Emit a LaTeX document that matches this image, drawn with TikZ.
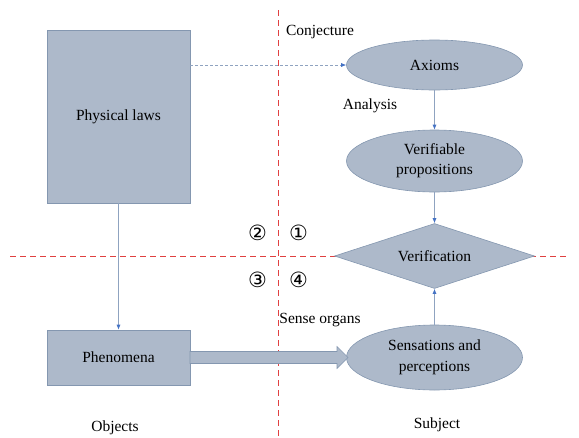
\documentclass[tikz,border=0pt]{standalone}
\usepackage{fontspec}
\setmainfont{Liberation Serif}
\newfontfamily\symfont{DejaVu Sans}
\usetikzlibrary{shapes.geometric,arrows.meta}
\definecolor{boxfill}{HTML}{ADB9CA}
\definecolor{boxline}{HTML}{8497B0}
\definecolor{conn}{HTML}{8FA3C0}
\definecolor{tipc}{HTML}{4472C4}
\definecolor{sep}{HTML}{E04040}
\tikzset{
  x=1pt,y=-1pt,
  every node/.style={font=\fontsize{15.5}{18}\selectfont},
  rectbox/.style={draw=boxline,fill=boxfill,line width=0.6pt,inner sep=0pt},
  ellbox/.style={ellipse,draw=boxline,fill=boxfill,line width=0.6pt,minimum width=176pt,minimum height=52pt,inner sep=0pt,align=center},
  diabox/.style={diamond,draw=boxline,fill=boxfill,line width=0.6pt,minimum width=200pt,minimum height=65pt,inner sep=0pt,aspect=3},
  conline/.style={draw=conn,line width=0.6pt,-{Latex[length=5pt,width=4pt,color=tipc]}},
  sepline/.style={draw=sep,line width=0.6pt,dash pattern=on 6pt off 4pt},
  lbl/.style={inner sep=0pt},
  circ/.style={inner sep=0pt,font=\symfont\fontsize{21}{24}\selectfont}
}
\begin{document}
\begin{tikzpicture}
\useasboundingbox (0,0) rectangle (579,437);
% separators
\coordinate (vtop) at (278,10);
\coordinate (vbot) at (278,437);
\coordinate (hl) at (10,256);
\coordinate (hr) at (568,256);
\draw[sepline] (vtop) -- (vbot);
\draw[sepline] (hl) -- (hr);
% nodes
\node[rectbox,minimum width=143pt,minimum height=173pt] (laws) at (118.5,116.5) {Physical laws};
\node[rectbox,minimum width=143pt,minimum height=55pt] (phen) at (118.5,357.5) {Phenomena};
\node[ellbox,minimum height=50pt] (ax) at (434.5,65) {Axioms};
\node[ellbox,minimum height=62pt] (ver) at (434.5,161) {Verifiable\\[2pt]propositions};
\node[diabox] (vfy) at (434.5,256) {Verification};
\node[ellbox,minimum height=65pt] (sen) at (434.5,357.5) {Sensations and\\[3pt]perceptions};
% connectors
\coordinate (lawsE) at (laws.east |- ax.west);
\draw[conline,dash pattern=on 3pt off 2pt] (lawsE) -- (ax.west);
\draw[conline] (ax.south) -- (ver.north);
\draw[conline] (ver.south) -- (vfy.north);
\draw[conline] (sen.north) -- (vfy.south);
\draw[conline] (laws.south) -- (phen.north);
% block arrow
\fill[boxfill,draw=boxline,line width=0.6pt] (190,351.5) -- (337,351.5) -- (337,346.5) -- (348,357.5) -- (337,368.5) -- (337,363.5) -- (190,363.5) -- cycle;
% labels
\node[lbl] (conj) at (320,32) {Conjecture};
\node[lbl] (ana) at (370,106) {Analysis};
\node[lbl] (sense) at (320,320) {Sense organs};
\node[lbl] (obj) at (115,428) {Objects};
\node[lbl] (subj) at (437,425) {Subject};
\node[circ] (c2) at (257.5,233) {②};
\node[circ] (c1) at (298.5,233) {①};
\node[circ] (c3) at (257.5,280) {③};
\node[circ] (c4) at (298.5,280) {④};
\end{tikzpicture}
\end{document}
